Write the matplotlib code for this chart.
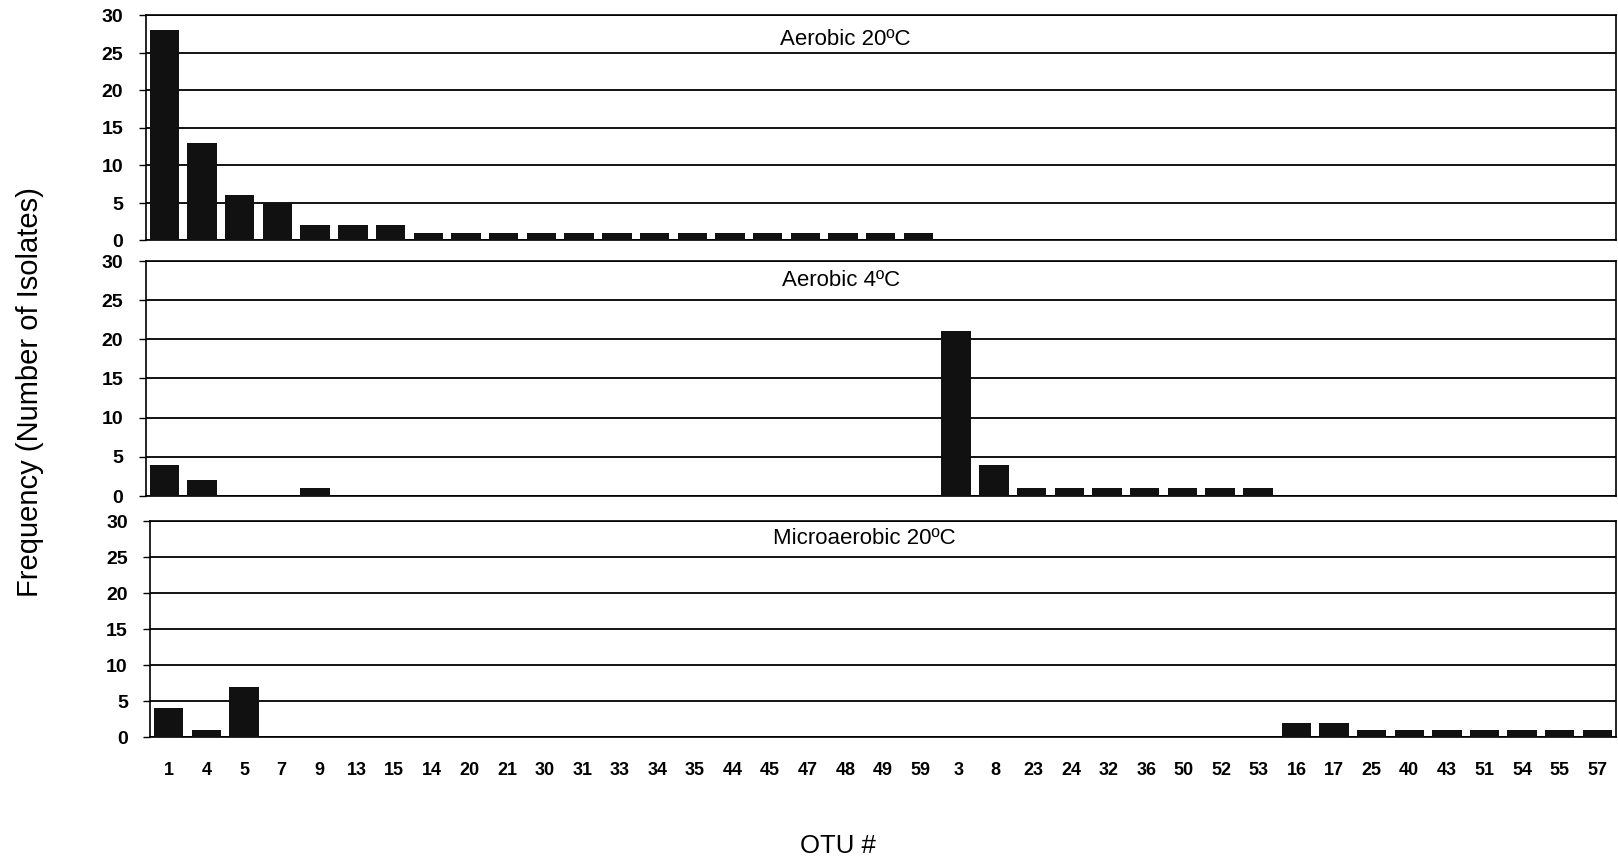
import matplotlib
matplotlib.use("Agg")
import matplotlib.pyplot as plt
import numpy as np

plt.rcParams['font.family'] = ['Liberation Sans', 'DejaVu Sans']

categories = ['1', '4', '5', '7', '9', '13', '15', '14', '20', '21', '30', '31', '33',
              '34', '35', '44', '45', '47', '48', '49', '59', '3', '8', '23', '24', '32',
              '36', '50', '52', '53', '16', '17', '25', '40', '43', '51', '54', '55', '57']

aerobic_20 = [28, 13, 6, 5, 2, 2, 2, 1, 1, 1, 1, 1, 1,
              1, 1, 1, 1, 1, 1, 1, 1, 0, 0, 0, 0, 0,
              0, 0, 0, 0, 0, 0, 0, 0, 0, 0, 0, 0, 0]
aerobic_4 = [4, 2, 0, 0, 1, 0, 0, 0, 0, 0, 0, 0, 0,
             0, 0, 0, 0, 0, 0, 0, 0, 21, 4, 1, 1, 1,
             1, 1, 1, 1, 0, 0, 0, 0, 0, 0, 0, 0, 0]
microaerobic_20 = [4, 1, 7, 0, 0, 0, 0, 0, 0, 0, 0, 0, 0,
                   0, 0, 0, 0, 0, 0, 0, 0, 0, 0, 0, 0, 0,
                   0, 0, 0, 0, 2, 2, 1, 1, 1, 1, 1, 1, 1]

panel_titles = ['Aerobic 20ºC', 'Aerobic 4ºC', 'Microaerobic 20ºC']
series = [aerobic_20, aerobic_4, microaerobic_20]
yticks = [0, 5, 10, 15, 20, 25, 30]

W, H = 1618, 863
fig = plt.figure(figsize=(W / 100, H / 100), dpi=100)

# panel boxes in pixel coords: (top, baseline, left)
boxes = [(15.5, 240.5, 145.5), (261, 496, 145.5), (521, 737, 150)]
right_px = 1616
title_pos = [(0.476, 0.895), (0.473, 0.919), (0.487, 0.917)]

x = np.arange(len(categories))
for i, ((top, base, left_px), vals, title) in enumerate(zip(boxes, series, panel_titles)):
    ax = fig.add_axes([left_px / W, 1 - base / H, (right_px - left_px) / W, (base - top) / H])
    ax.set_xlim(-0.5, len(categories) - 0.5)
    ax.set_ylim(0, 30)
    for yv in yticks:
        ax.axhline(yv, color='black', lw=1.3, zorder=1)
    ax.bar(x, vals, width=0.78, color='#111111', zorder=3)
    for s in ['left', 'right', 'top', 'bottom']:
        ax.spines[s].set_color('black')
        ax.spines[s].set_linewidth(1.2)
    ax.set_yticks(yticks)
    ax.set_yticklabels([str(v) for v in yticks], fontsize=14, fontweight='bold')
    ax.tick_params(axis='y', direction='out', length=5, width=1, pad=11)
    ax.text(title_pos[i][0], title_pos[i][1], title, transform=ax.transAxes,
            ha='center', va='center', fontsize=16)
    if i < 2:
        ax.set_xticks([])
    else:
        ax.set_xticks(x)
        ax.set_xticklabels(categories, fontsize=13, fontweight='bold')
        ax.tick_params(axis='x', length=0, pad=18)

fig.text(30 / W, 1 - 392 / H, 'Frequency (Number of Isolates)', rotation=90,
         ha='center', va='center', fontsize=21)
fig.text(838 / W, 1 - 846 / H, 'OTU #', ha='center', va='center', fontsize=18.5)

fig.savefig('out.png', dpi=100, facecolor='white')
